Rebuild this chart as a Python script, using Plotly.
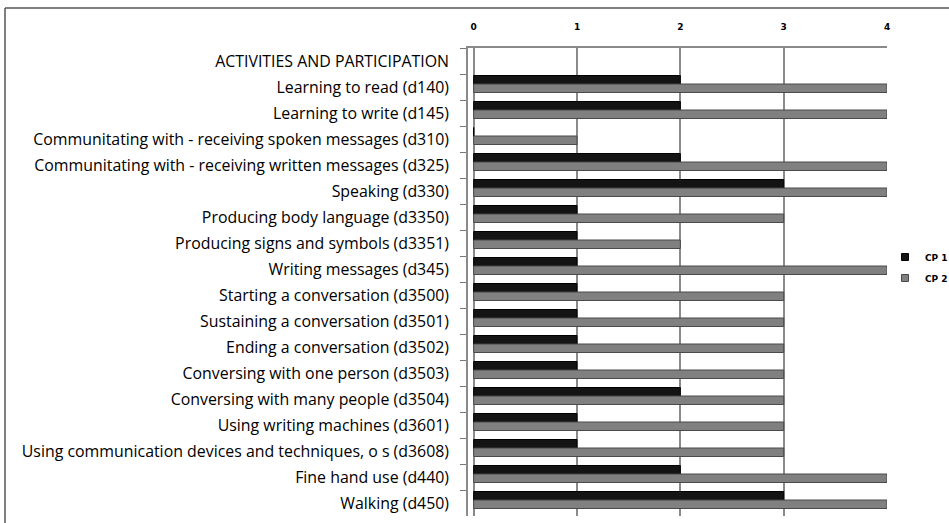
import plotly.graph_objects as go

# Rows of the chart, top to bottom (first row is a section heading with no bars)
categories = [
    "ACTIVITIES AND PARTICIPATION",
    "Learning to read (d140)",
    "Learning to write (d145)",
    "Communitating with - receiving spoken messages (d310)",
    "Communitating with - receiving written messages (d325)",
    "Speaking (d330)",
    "Producing body language (d3350)",
    "Producing signs and symbols (d3351)",
    "Writing messages (d345)",
    "Starting a conversation (d3500)",
    "Sustaining a conversation (d3501)",
    "Ending a conversation (d3502)",
    "Conversing with one person (d3503)",
    "Conversing with many people (d3504)",
    "Using writing machines (d3601)",
    "Using communication devices and techniques, o s (d3608)",
    "Fine hand use (d440)",
    "Walking (d450)",
]

cp1 = [None, 2, 2, 0, 2, 3, 1, 1, 1, 1, 1, 1, 1, 2, 1, 1, 2, 3]
cp2 = [None, 4, 4, 1, 4, 4, 3, 2, 4, 3, 3, 3, 3, 3, 3, 3, 4, 4]

series_names = ["CP 1", "CP 2"]
series_colors = ["#141414", "#808080"]
series_edges = ["#000000", "#4a4a4a"]

x_ticks = [0, 1, 2, 3, 4]

W, H = 949, 523
ML, MR, MT, MB = 468, 62, 48, 7
PW, PH = W - ML - MR, H - MT - MB
ROW = PH / len(categories)          # pixel height of one category slot
grid_col = "#8a8a8a"

# bar thickness and placement within a slot (in category units)
bar_w = 8.5 / ROW
bar_offsets = [-11.5 / ROW, -3.0 / ROW]

fig = go.Figure()
for i, (name, vals) in enumerate(zip(series_names, [cp1, cp2])):
    fig.add_trace(go.Bar(
        y=categories, x=vals, name=name, orientation="h",
        width=bar_w, offset=bar_offsets[i],
        marker=dict(color=series_colors[i], line=dict(color=series_edges[i], width=1)),
        legendgroup=name, showlegend=False,
    ))
    # small square legend key for the series
    fig.add_trace(go.Scatter(
        x=[None], y=[None], mode="markers", name=name,
        marker=dict(symbol="square", size=7, color=series_colors[i],
                    line=dict(color=series_edges[i], width=1)),
        legendgroup=name, legend="legend" if i == 0 else "legend2",
    ))

legend_common = dict(
    xref="container", yref="container", xanchor="left", yanchor="middle",
    bgcolor="rgba(0,0,0,0)", itemsizing="trace", itemwidth=30,
    font=dict(family="DejaVu Sans", size=9, color="#000", weight="bold"),
)

fig.update_layout(
    width=W, height=H,
    margin=dict(l=ML, r=MR, t=MT, b=MB, autoexpand=False),
    paper_bgcolor="white", plot_bgcolor="white",
    barmode="overlay",
    font=dict(family="Open Sans", color="#000000"),
    showlegend=True,
    legend=dict(x=885 / W, y=1 - 257 / H, **legend_common),
    legend2=dict(x=885 / W, y=1 - 278 / H, **legend_common),
    xaxis=dict(
        side="top", range=[-0.055, 4.0],
        tickmode="array", tickvals=x_ticks, ticktext=[str(t) for t in x_ticks],
        tickfont=dict(family="DejaVu Sans", size=9, color="#000", weight="bold"),
        showgrid=True, gridcolor=grid_col, gridwidth=1.5,
        zeroline=False, ticks="", ticklabelstandoff=13,
        showline=True, linecolor=grid_col, linewidth=1.5, mirror=False,
    ),
    yaxis=dict(
        type="category", autorange="reversed",
        tickfont=dict(family="Open Sans", size=15.9, color="#000"),
        ticks="outside", tickson="boundaries", ticklen=6, tickcolor="#777",
        ticklabelstandoff=14,
        showline=True, linecolor=grid_col, linewidth=1.5,
        showgrid=False, zeroline=False,
    ),
    shapes=[
        # chart frame (top and left edges)
        dict(type="line", xref="paper", yref="paper",
             x0=(5 - ML) / PW, x1=(W + 5 - ML) / PW,
             y0=1 + (MT - 8) / PH, y1=1 + (MT - 8) / PH,
             line=dict(color="#555", width=1.5)),
        dict(type="line", xref="paper", yref="paper",
             x0=(5 - ML) / PW, x1=(5 - ML) / PW,
             y0=-(MB + 5) / PH, y1=1 + (MT - 8) / PH,
             line=dict(color="#555", width=1.5)),
    ],
)

fig.write_html("out.html")
